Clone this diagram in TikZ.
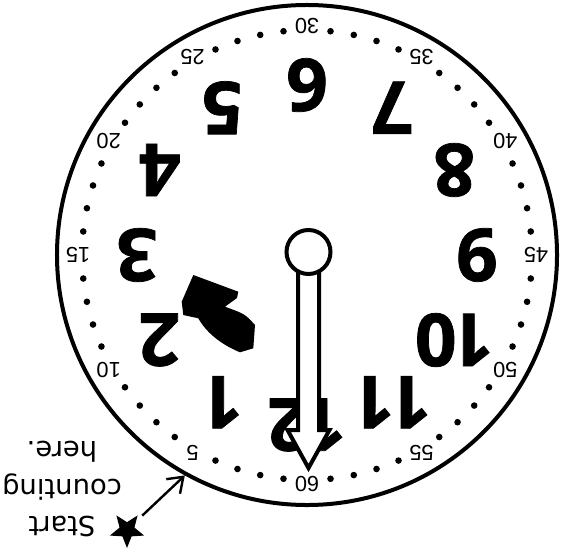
\documentclass[tikz,border=0pt]{standalone}
\usepackage{fontspec}
\setmainfont{Liberation Sans}
\newfontfamily\hourfont[FakeBold=1]{Open Sans}
\newfontfamily\notefont{DejaVu Sans}
\usetikzlibrary{positioning,shapes.geometric,arrows.meta}
\newcommand{\hourtext}[1]{\ifnum#1>9 1\kern-3.5pt\the\numexpr#1-10\relax\else#1\fi}

\begin{document}
\begin{tikzpicture}[x=0.25mm, y=0.25mm,
        face/.style={circle, draw=black, line width=1mm, minimum size=125mm, inner sep=0},
        hour/.style={font=\hourfont\bfseries\fontsize{52}{60}\selectfont, rotate=180, inner sep=0},
        minute/.style={font=\fontsize{15.5}{17}\selectfont, rotate=180, inner sep=0},
        note/.style={font=\notefont\fontsize{19.5}{27}\selectfont, align=center, rotate=180, inner sep=0},
        starmark/.style={star, star points=5, star point ratio=2.3, fill=black, minimum size=9mm, inner sep=0, rotate=180}
    ]
    \useasboundingbox (0,0) rectangle (561,550);

    % Clock face (the whole sheet is printed upside down)
    \node[face] (clock) at (307,295) {};

    \begin{scope}[shift={(307,295)}]
        % minute labels and dots
        \foreach \h in {1,...,12} {
            \node[minute] (m\h) at ({270-30*\h}:229) {\the\numexpr5*\h\relax};
            \foreach \k in {1,...,4}
                \fill ({270-30*\h+6*\k}:225) circle (3.3);
        }
        % hour numbers
        \foreach \h in {1,...,12}
            \node[hour] (h\h) at ({270-30*\h}:170) {\hourtext{\h}};
    \end{scope}

    % Clockwise arrow
    \fill (193.3,275) -- (238.3,258.3) -- (237,252) -- (225,243.3)
        .. controls (245,236) .. (255,225) -- (253.3,201.7) -- (240,197.7)
        .. controls (220,206) and (206,218) .. (198.3,231.7) -- (183.3,235) -- (181.7,248.3) -- cycle;

    % Minute hand
    \draw[line width=1mm, fill=white] (298,298) -- (298,120) -- (287.5,120) -- (308.5,82)
        -- (329.5,120) -- (319,120) -- (319,298);
    \node[circle, draw=black, fill=white, line width=1mm, minimum size=11mm, inner sep=0] (pin) at (308.5,298) {};

    % Start note
    \node[note] (start) at (62,61) {Start\\counting\\here.};
    \node[starmark] (star) at (127,20) {};
    \draw[-{Straight Barb[length=3.5mm, width=5mm]}, line width=0.6mm, shorten <=2mm] (star) -- (clock.241);
\end{tikzpicture}
\end{document}
